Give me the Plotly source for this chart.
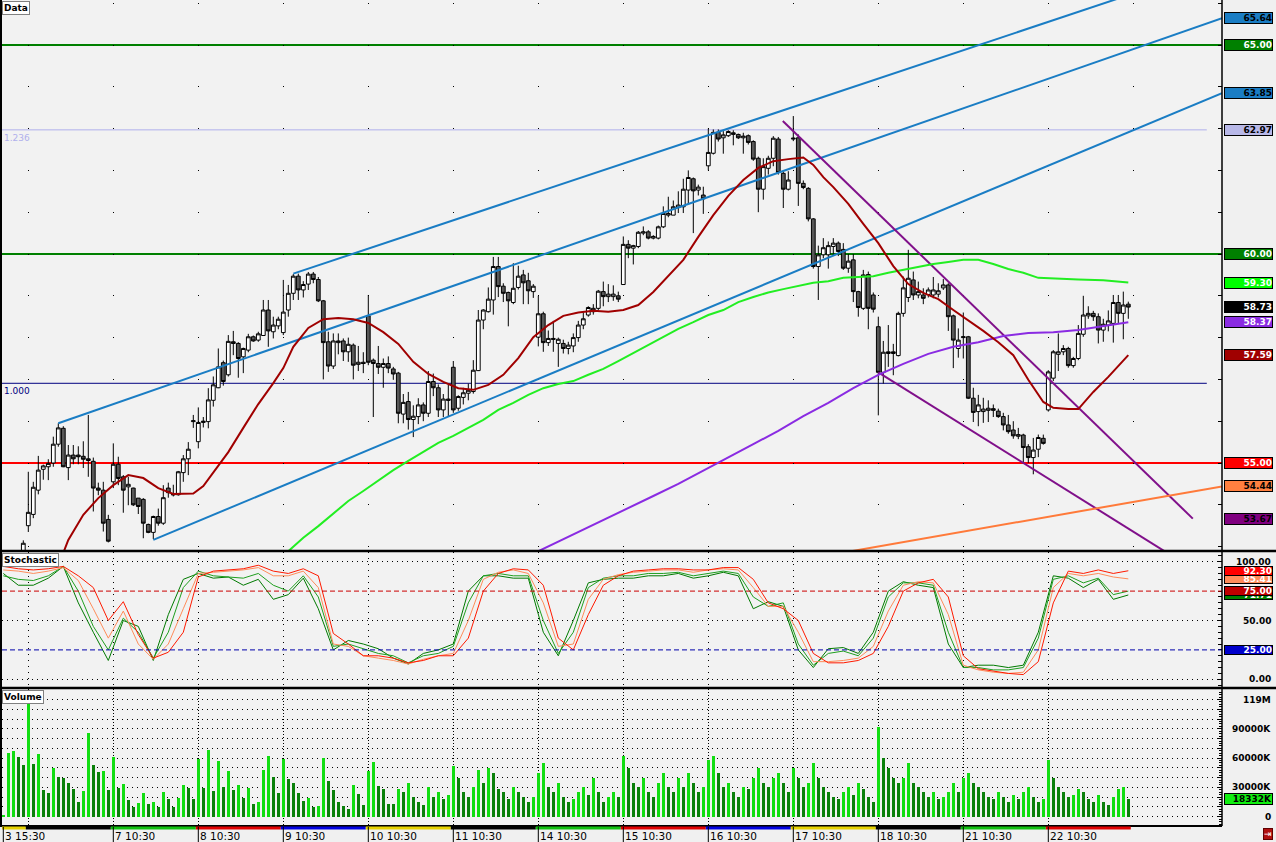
import plotly.graph_objects as go
from plotly.subplots import make_subplots

# ---------------- DATA ----------------
bar_idx = list(range(226))

opens = [52.70,52.75,52.65,52.80,52.90,53.50,53.77,54.35,54.85,54.91,55.00,55.45,55.83,54.89,55.19,55.19,55.16,55.10,55.04,54.40,
         54.35,53.65,54.55,54.97,54.67,54.43,54.40,54.16,54.13,53.53,53.34,53.72,53.56,54.40,54.26,54.24,54.77,55.10,55.99,55.51,
         55.97,55.99,56.50,56.80,57.40,57.11,57.90,57.86,57.54,57.70,58.02,57.94,58.05,58.66,58.14,58.28,58.12,58.66,59.06,59.47,
         59.14,59.28,59.52,59.39,58.88,57.90,57.32,57.88,57.92,57.66,57.82,57.36,57.41,58.52,57.46,57.38,57.29,57.38,57.25,57.15,
         56.17,56.47,56.04,56.11,56.39,56.19,56.95,56.80,56.27,56.53,57.29,56.31,56.57,56.67,56.71,57.21,58.42,58.62,58.90,59.70,
         59.23,59.08,58.84,59.20,59.50,59.36,59.10,58.01,58.57,57.88,57.98,57.86,57.86,57.74,57.80,58.00,58.30,58.54,58.62,58.70,
         59.10,58.98,58.98,59.00,59.27,60.23,60.14,60.18,60.50,60.53,60.38,60.38,60.65,60.93,60.93,61.11,61.13,61.53,61.80,61.53,
         61.41,62.11,62.41,62.91,62.78,62.83,62.86,62.86,62.78,62.83,62.69,62.29,61.55,62.05,62.29,62.75,61.93,61.55,62.75,62.78,
         61.69,61.57,60.84,59.70,59.98,59.98,60.18,60.26,60.11,59.66,59.86,59.10,58.70,59.51,59.02,58.26,57.17,57.62,57.62,57.57,
         58.58,58.96,59.38,59.02,59.02,59.03,59.02,59.04,59.19,59.26,58.52,57.74,58.00,58.02,56.55,56.23,56.23,56.26,56.30,56.24,
         56.11,55.91,55.79,55.64,55.67,55.39,55.13,55.33,55.59,56.27,57.03,57.60,57.66,57.74,57.33,57.50,58.08,58.52,58.58,58.50,
         58.18,58.30,58.34,58.84,58.58,58.80]
highs = [52.80,52.85,52.85,52.88,53.15,54.79,54.55,55.17,54.96,55.09,55.63,55.95,55.88,55.43,55.43,55.40,55.52,56.15,55.13,54.53,
         54.55,53.76,55.47,55.15,54.71,54.67,54.41,54.16,54.16,53.55,53.74,53.91,54.47,54.53,54.48,54.81,55.19,55.50,56.15,56.33,
         56.10,56.79,57.07,57.74,57.45,58.06,58.16,57.89,57.76,58.09,58.05,58.14,58.90,58.90,58.50,58.50,59.38,59.26,59.52,59.53,
         59.35,59.57,59.57,59.45,58.90,58.14,58.10,58.10,57.98,58.00,57.86,57.80,57.65,59.02,57.50,57.80,57.50,57.55,57.30,57.18,
         56.65,56.70,56.38,56.55,56.45,57.20,57.14,56.88,56.65,56.90,57.44,56.62,56.80,56.90,57.46,58.66,58.68,59.20,59.93,59.93,
         59.30,59.10,59.78,59.72,59.62,59.55,59.28,59.00,58.62,58.17,58.40,58.00,57.95,57.90,58.10,58.40,58.60,58.75,58.80,59.14,
         59.34,59.28,59.25,59.10,60.42,60.33,60.22,60.55,60.66,60.57,60.45,60.68,61.14,61.37,61.28,61.50,61.80,62.00,61.83,61.66,
         61.61,63.00,62.98,62.98,62.94,62.96,62.96,62.88,62.90,62.86,62.72,62.33,62.29,62.35,62.82,62.80,61.97,61.98,63.30,62.86,
         61.76,61.60,60.86,60.20,60.38,60.30,60.38,60.30,60.26,60.00,60.00,59.12,59.62,59.58,59.08,58.50,57.92,58.30,57.85,58.62,
         59.46,60.10,59.58,59.34,59.18,59.20,59.45,59.30,59.40,59.30,58.55,58.22,58.60,58.04,56.80,56.63,56.56,56.50,56.40,56.30,
         56.20,56.15,56.00,55.84,55.70,55.45,55.60,55.68,55.68,57.22,57.70,58.10,57.82,57.78,57.54,58.30,59.00,58.75,58.64,58.58,
         58.45,58.65,59.02,59.02,59.10,58.86]
lows = [52.60,52.55,52.50,52.60,52.80,53.35,53.68,54.25,54.60,54.59,54.91,55.39,54.90,54.59,54.97,54.97,54.88,54.67,53.84,54.23,
        53.36,53.10,54.40,54.47,53.81,53.99,53.97,53.78,53.20,53.32,53.18,53.50,53.52,54.17,54.20,54.22,54.55,54.71,55.84,55.35,
        55.85,55.83,56.35,56.79,56.85,57.07,57.58,57.04,57.15,57.65,57.90,57.90,58.05,57.78,57.98,58.20,58.06,58.50,58.90,58.90,
        58.96,59.14,59.30,58.85,57.00,57.18,57.25,57.60,57.44,57.42,57.00,57.20,57.15,57.34,56.10,57.13,56.80,57.15,56.99,55.95,
        55.95,55.80,55.62,55.93,56.00,56.10,56.60,56.10,56.10,56.10,56.20,56.25,56.40,56.50,56.66,57.20,58.20,58.60,58.55,58.97,
        58.85,58.27,58.80,59.15,58.80,58.80,58.95,57.79,57.66,57.80,57.66,57.30,57.62,57.60,57.65,57.90,58.20,58.50,58.55,58.65,
        58.75,58.85,58.88,58.85,59.27,59.90,59.75,60.14,60.45,60.35,60.35,60.35,60.62,60.88,60.93,60.98,60.98,61.20,60.50,61.40,
        60.96,62.00,62.38,62.69,62.40,62.80,62.60,62.75,62.40,62.62,62.23,61.00,61.30,61.90,62.10,61.90,61.10,61.52,62.70,61.15,
        61.55,60.78,59.65,58.90,59.90,59.65,59.95,59.95,59.62,59.55,58.85,58.50,58.66,58.20,58.60,56.14,56.90,57.30,57.10,57.55,
        58.50,58.85,58.90,58.94,58.80,58.96,58.94,58.96,59.14,58.16,57.27,57.52,57.50,56.53,55.98,55.88,55.96,55.98,56.10,56.08,
        55.78,55.70,55.58,55.57,55.00,55.00,54.73,55.14,55.44,56.23,56.96,57.20,57.58,57.28,57.28,57.46,58.02,58.45,58.40,57.86,
        57.90,58.15,57.88,58.35,57.96,58.45]
closes = [52.75,52.65,52.80,52.70,53.08,53.82,54.42,54.83,54.93,54.99,55.45,55.84,54.91,55.19,55.10,55.15,55.09,55.06,54.40,54.35,
          53.56,53.13,54.97,54.63,54.35,54.49,54.00,53.96,53.56,53.34,53.72,53.56,54.17,54.29,54.24,54.79,55.10,55.33,56.01,55.97,
          56.00,56.51,56.87,57.30,56.95,57.91,57.86,57.50,57.74,58.02,57.92,58.09,58.66,58.16,58.30,58.44,58.61,59.06,59.47,59.14,
          59.27,59.52,59.39,58.88,57.88,57.32,57.92,57.92,57.66,57.84,57.34,57.41,57.38,57.41,57.38,57.29,57.38,57.27,57.13,56.19,
          56.45,56.04,56.12,56.39,56.19,56.95,56.80,56.27,56.53,56.50,56.27,56.59,56.68,56.74,57.22,58.42,58.66,58.92,59.70,59.22,
          59.06,58.88,59.18,59.47,59.31,59.12,59.23,58.57,57.88,57.98,57.96,57.96,57.74,57.82,58.00,58.30,58.45,58.72,58.70,59.11,
          58.98,59.04,59.04,58.92,60.23,60.14,60.20,60.52,60.53,60.38,60.42,60.65,60.97,60.97,61.13,61.17,61.55,61.83,61.51,61.60,
          61.32,62.43,62.91,62.75,62.85,62.93,62.90,62.78,62.82,62.67,62.27,61.55,62.09,62.29,62.77,61.95,61.55,61.77,62.77,61.69,
          61.59,60.84,59.70,59.98,60.15,60.20,60.26,60.06,59.66,59.83,59.10,58.72,59.50,58.70,58.68,57.17,57.65,57.66,57.66,58.58,
          59.19,59.42,59.02,59.10,58.94,59.14,59.14,59.12,59.26,58.50,57.94,57.94,58.02,56.55,56.21,56.39,56.29,56.31,56.26,56.11,
          55.91,55.75,55.65,55.68,55.37,55.13,55.31,55.61,55.47,57.18,57.66,57.66,57.74,57.33,57.50,58.10,58.54,58.58,58.50,58.18,
          58.32,58.40,58.84,58.58,58.78,58.73]

volume_k = [1000,65200,67300,61400,52900,117000,54000,64200,27300,24200,49900,40600,39600,34500,28400,15400,26300,85700,52900,45800,
            46800,27300,61100,29400,33500,17100,9900,14000,24300,13000,15000,9900,25300,18100,9900,19100,32400,29400,18100,59100,
            29400,68300,26300,57000,30400,46800,27300,32400,19100,29400,13000,15000,47800,62100,40600,24300,59100,38600,34500,24300,
            16000,19100,9900,10900,60100,36500,27300,15000,10900,7900,32400,23200,11900,46800,56000,31400,28400,13000,12500,28400,
            25000,35000,20000,15000,12000,30000,20000,25000,18000,22000,52000,40000,25000,20000,30000,48000,35000,50000,45000,28000,
            25000,18000,30000,25000,20000,15000,20000,45000,55000,30000,25000,35000,20000,15000,18000,25000,30000,22000,40000,25000,
            15000,20000,25000,20000,62000,50000,35000,30000,40000,25000,20000,35000,45000,30000,25000,40000,30000,45000,35000,25000,
            30000,58000,62000,45000,30000,35000,25000,20000,30000,28000,40000,50000,35000,30000,40000,45000,35000,25000,50000,40000,
            30000,35000,55000,40000,30000,25000,20000,18000,25000,30000,22000,35000,28000,20000,15000,92000,60000,50000,40000,35000,
            40000,55000,35000,30000,25000,20000,25000,18000,20000,25000,35000,25000,40000,45000,35000,30000,25000,20000,18000,25000,
            20000,15000,22000,18000,25000,30000,20000,15000,18000,58000,40000,30000,25000,20000,22000,28000,25000,18000,15000,22000,
            15000,12000,20000,28000,30000,18332]

# moving averages (sampled along the bar index)
ma_red_idx = [12,13,16,19,22,25,28,31,34,38,40,42,45,48,51,54,56,58,61,64,67,70,73,76,79,82,85,88,91,94,97,100,103,106,109,112,
              115,118,121,124,127,130,133,136,139,142,145,148,151,154,157,160,162,164,166,169,172,175,178,181,184,187,190,193,196,
              199,202,205,208,210,213,215,218,221,223,225]
ma_red = [52.85,53.16,53.76,54.16,54.47,54.71,54.64,54.40,54.26,54.27,54.45,54.78,55.26,55.84,56.41,56.91,57.27,57.78,58.23,58.44,
          58.47,58.44,58.35,58.13,57.85,57.42,57.13,56.94,56.79,56.75,56.87,57.11,57.51,58.01,58.30,58.52,58.60,58.64,58.62,58.66,
          58.78,59.09,59.47,59.86,60.41,60.93,61.39,61.77,62.06,62.22,62.27,62.31,62.13,61.84,61.60,61.20,60.72,60.26,59.71,59.28,
          59.07,58.92,58.66,58.42,58.16,57.89,57.58,56.99,56.46,56.32,56.29,56.29,56.70,57.06,57.32,57.58]
ma_green_idx = [57,60,63,66,69,72,75,78,81,84,87,90,93,96,99,102,105,108,111,114,117,120,123,126,129,132,135,138,141,144,147,150,
                153,156,159,162,165,168,171,174,177,180,183,186,189,192,195,198,201,204,207,210,215,220,225]
ma_green = [52.89,53.21,53.49,53.80,54.09,54.33,54.59,54.83,55.05,55.26,55.48,55.65,55.84,56.03,56.27,56.44,56.63,56.79,56.89,56.96,
            57.11,57.25,57.44,57.63,57.82,58.01,58.21,58.37,58.54,58.66,58.85,58.97,59.08,59.16,59.23,59.31,59.35,59.43,59.45,59.47,
            59.55,59.62,59.69,59.76,59.81,59.86,59.86,59.76,59.64,59.55,59.43,59.41,59.39,59.37,59.32]
ma_purple_idx = [107,110,115,120,125,130,135,140,145,150,155,160,165,170,175,180,185,190,195,200,205,210,215,220,225]
ma_purple = [52.89,53.06,53.35,53.64,53.92,54.21,54.50,54.81,55.12,55.45,55.77,56.12,56.44,56.79,57.11,57.37,57.61,57.78,57.89,58.04,
             58.11,58.13,58.18,58.28,58.37]

# stochastic (sampled every 3 bars)
stoch_idx = list(range(0, 226, 3))
stoch_red = [96,94,93,94,96,88,78,50,66,38,18,23,40,87,92,93,94,97,92,90,94,88,39,30,20,20,18,14,16,20,
             20,35,75,90,94,93,80,35,25,55,80,88,92,93,94,94,93,93,95,95,85,65,60,50,22,14,14,16,22,45,
             75,82,85,70,20,9,7,5,4,15,65,92,90,93,90,92.3]
stoch_orange = [93,92,90,92,95,84,60,35,58,30,17,30,60,90,91,92,93,95,88,88,92,78,30,28,20,18,16,13,17,20,
                22,50,85,91,93,90,65,28,30,68,85,89,91,92,93,93,91,93,94,93,78,62,62,40,15,15,16,18,28,58,
                80,83,82,55,12,8,6,5,6,25,78,90,88,90,87,85.41]
stoch_green2 = [88,85,84,88,96,75,45,25,52,40,18,40,78,92,88,87,86,90,80,75,88,70,28,30,26,22,20,14,20,22,
                28,65,88,90,88,88,50,22,40,78,86,88,88,90,90,91,88,90,92,90,70,62,65,30,12,22,24,20,35,70,
                82,82,80,40,10,10,8,8,10,35,85,88,82,86,72,75]
stoch_green1 = [90,80,80,86,96,65,40,16,50,45,16,55,85,90,86,87,80,85,68,72,86,60,25,33,30,26,18,13,22,25,
                30,75,88,88,86,86,40,20,50,82,85,86,86,88,88,90,86,88,91,88,60,66,62,25,10,26,27,22,40,75,
                83,80,78,30,10,12,12,10,12,40,88,86,78,85,68,71.71]

# trend lines: (start bar, start price, end bar, end price)
blue_trends = [(11, 55.95, 243.74, 65.64), (30, 53.16, 243.74, 63.85), (58, 59.53, 243.74, 66.94)]
purple_trends = [(155.9, 63.18, 237.9, 53.67), (175, 57.17, 240, 52.31)]
orange_trends = [(150, 52.48, 243.74, 54.44)]
sr_levels = [(65.0, "#008000"), (60.0, "#008000"), (55.0, "#ff0000")]
fib_levels = [("1.236", 62.97, "#b0b0ec"), ("1.000", 56.907, "#000080")]

day_label_idx = [0, 22, 39, 56, 73, 90, 107, 124, 141, 158, 175, 192, 209]
day_labels = ["3 15:30", "7 10:30", "8 10:30", "9 10:30", "10 10:30", "11 10:30", "14 10:30",
              "15 10:30", "16 10:30", "17 10:30", "18 10:30", "21 10:30", "22 10:30"]
session_idx = [0, 5, 22, 39, 56, 73, 90, 107, 124, 141, 158, 175, 192, 209]
session_colors = ["#e6d200", "#000000", "#10c010", "#e00000", "#0000e0", "#e6d200", "#000000",
                  "#10c010", "#e00000", "#0000e0", "#e6d200", "#000000", "#10c010", "#e00000"]

price_labels = [(65.64, "#1a7dc4", "black"), (65.00, "#008000", "white"), (63.85, "#1a7dc4", "black"),
                (62.97, "#b8b8e8", "black"), (60.00, "#008000", "white"), (59.30, "#00ff00", "white"),
                (58.73, "#000000", "white"), (58.37, "#8a2be2", "white"), (57.59, "#a00000", "white"),
                (55.00, "#ff0000", "white"), (54.44, "#ff8040", "black"), (53.67, "#800080", "black")]
stoch_plain = [(100, "100.00"), (50, "50.00"), (0, "0.00")]
stoch_boxes = [(85.41, "#ff8c5a", "white"), (92.30, "#ff0000", "white"), (71.71, "#008000", "white"),
               (75.00, "#c00000", "white"), (25.00, "#0000cc", "white")]
vol_tickvals = [0, 30000, 60000, 90000, 119000]
vol_ticktext = ["0", "30000K", "60000K", "90000K", "119M"]

# ---------------- FIGURE ----------------
W, H = 1276, 842
ML, MR, MT, MB = 2, 54, 0, 16
PW = W - ML - MR
PH = H - MT - MB

def py(px):  # pixel row -> paper y
    return (PH - (px - MT)) / PH

def pxx(px):  # pixel column -> paper x
    return (px - ML) / PW

fig = make_subplots(rows=3, cols=1, shared_xaxes=True, vertical_spacing=0.0)

fig.add_trace(go.Candlestick(
    x=bar_idx, open=opens, high=highs, low=lows, close=closes, whiskerwidth=0,
    increasing=dict(line=dict(color="black", width=1), fillcolor="white"),
    decreasing=dict(line=dict(color="black", width=1), fillcolor="#585858"),
    hoverinfo="skip"), row=1, col=1)

for (x0, y0, x1, y1) in blue_trends:
    fig.add_trace(go.Scatter(x=[x0, x1], y=[y0, y1], mode="lines",
                             line=dict(color="#1a7dc4", width=2)), row=1, col=1)
for (x0, y0, x1, y1) in purple_trends:
    fig.add_trace(go.Scatter(x=[x0, x1], y=[y0, y1], mode="lines",
                             line=dict(color="#80108a", width=2)), row=1, col=1)
for (x0, y0, x1, y1) in orange_trends:
    fig.add_trace(go.Scatter(x=[x0, x1], y=[y0, y1], mode="lines",
                             line=dict(color="#ff7a3a", width=2)), row=1, col=1)

fig.add_trace(go.Scatter(x=ma_green_idx, y=ma_green, mode="lines",
                         line=dict(color="#22ee22", width=2)), row=1, col=1)
fig.add_trace(go.Scatter(x=ma_purple_idx, y=ma_purple, mode="lines",
                         line=dict(color="#8a2be2", width=2)), row=1, col=1)
fig.add_trace(go.Scatter(x=ma_red_idx, y=ma_red, mode="lines",
                         line=dict(color="#a00000", width=2)), row=1, col=1)

# stochastic
for vals, col in [(stoch_green1, "#007a00"), (stoch_green2, "#1f9f1f"),
                  (stoch_orange, "#ff8c5a"), (stoch_red, "#ff1a00")]:
    fig.add_trace(go.Scatter(x=stoch_idx, y=vals, mode="lines",
                             line=dict(color=col, width=1)), row=2, col=1)

# volume
vol_colors = []
for i, v in enumerate(volume_k):
    up = i == 0 or v >= volume_k[i - 1]
    vol_colors.append("#11dd11" if up else "#0a800a")
fig.add_trace(go.Bar(x=bar_idx, y=volume_k, marker=dict(color=vol_colors, line=dict(width=0)),
                     width=0.5), row=3, col=1)

xr = [-0.26, 243.74]

shapes = []
annotations = []

# S/R levels
for lvl, col in sr_levels:
    shapes.append(dict(type="line", xref="paper", x0=0, x1=1, yref="y", y0=lvl, y1=lvl,
                       line=dict(color=col, width=2), layer="below"))
for txt, lvl, col in fib_levels:
    shapes.append(dict(type="line", xref="x", x0=xr[0], x1=240.7, yref="y", y0=lvl, y1=lvl,
                       line=dict(color=col, width=1), layer="below"))
    annotations.append(dict(text=txt, xref="paper", x=0.0, y=lvl, yref="y", xanchor="left",
                            yanchor="top", showarrow=False, yshift=-1,
                            font=dict(family="DejaVu Sans", size=9, color=col)))

# stoch reference lines
shapes.append(dict(type="line", xref="paper", x0=0, x1=1, yref="y2", y0=75, y1=75,
                   line=dict(color="#cc0000", width=1, dash="5px,3px")))
shapes.append(dict(type="line", xref="paper", x0=0, x1=1, yref="y2", y0=25, y1=25,
                   line=dict(color="#0000aa", width=1, dash="5px,3px")))

# panel separators and borders
for ypx in [551, 688]:
    shapes.append(dict(type="line", xref="paper", x0=pxx(0), x1=pxx(W), yref="paper",
                       y0=py(ypx), y1=py(ypx), line=dict(color="black", width=2.5)))
shapes.append(dict(type="line", xref="paper", x0=pxx(0), x1=1.0, yref="paper",
                   y0=py(826), y1=py(826), line=dict(color="black", width=2)))
shapes.append(dict(type="line", xref="paper", x0=1.0, x1=1.0, yref="paper", y0=py(826), y1=1,
                   line=dict(color="black", width=1.5)))
shapes.append(dict(type="line", xref="paper", x0=pxx(1), x1=pxx(1), yref="paper", y0=py(826), y1=1,
                   line=dict(color="black", width=2)))

# session colour strip and bottom ticks
for k, s in enumerate(session_idx):
    e = session_idx[k + 1] - 0.5 if k + 1 < len(session_idx) else len(bar_idx) - 0.5
    x0 = xr[0] if k == 0 else s - 0.5
    shapes.append(dict(type="rect", xref="x3", x0=x0, x1=e, yref="paper", y0=py(826.5), y1=py(829.5),
                       line=dict(width=0), fillcolor=session_colors[k]))
for k, d in enumerate(day_label_idx):
    shapes.append(dict(type="line", xref="x3", x0=d, x1=d, yref="paper", y0=py(827), y1=py(842),
                       line=dict(color="black", width=1)))
    annotations.append(dict(text=day_labels[k], xref="x3", x=d, xanchor="left", xshift=1,
                            yref="paper", y=py(828.5), yanchor="top", showarrow=False,
                            borderpad=0, height=13, valign="top",
                            font=dict(family="DejaVu Sans", size=10.5, color="black")))

# right-axis value boxes
def box(yval, yref, bg, fg, txt, h=10):
    annotations.append(dict(text="<b>%s</b>" % txt, xref="paper", x=pxx(1224), xanchor="left",
                            yref=yref, y=yval, yanchor="middle", showarrow=False, width=47, height=h,
                            align="right", bgcolor=bg, bordercolor="black", borderwidth=1, borderpad=0,
                            font=dict(family="DejaVu Sans", size=9, color=fg)))

def plain(yval, yref, txt):
    annotations.append(dict(text="<b>%s</b>" % txt, xref="paper", x=pxx(1273), xanchor="right",
                            yref=yref, y=yval, yanchor="middle", showarrow=False,
                            font=dict(family="DejaVu Sans", size=9, color="black")))

for v, bg, fg in price_labels:
    box(v, "y", bg, fg, "%.2f" % v)
for v, t in stoch_plain:
    plain(v, "y2", t)
for v, bg, fg in stoch_boxes:
    box(v, "y2", bg, fg, "%.2f" % v, h=8)
for v, t in zip(vol_tickvals, vol_ticktext):
    plain(v, "y3", t)
box(volume_k[-1], "y3", "#11ee11", "black", "%dK" % volume_k[-1])

# panel titles
for title, ypx in [("Data", 1), ("Stochastic", 553), ("Volume", 690)]:
    annotations.append(dict(text="<b>%s</b>" % title, xref="paper", x=pxx(2), xanchor="left",
                            yref="paper", y=py(ypx), yanchor="top", showarrow=False,
                            bgcolor="white", bordercolor="#808080", borderwidth=1, borderpad=1,
                            font=dict(family="DejaVu Sans", size=9, color="black")))

# corner icon
annotations.append(dict(text="⇥", xref="paper", x=pxx(1268), xanchor="center", yref="paper",
                        y=py(834), yanchor="middle", showarrow=False, bgcolor="#b01010",
                        bordercolor="#600000", borderwidth=1, borderpad=0,
                        font=dict(family="DejaVu Sans", size=9, color="white")))

fig.update_layout(
    width=W, height=H, margin=dict(l=ML, r=MR, t=MT, b=MB, autoexpand=False),
    paper_bgcolor="#f0f0f0", plot_bgcolor="#f2f2f2",
    showlegend=False, hovermode=False, bargap=0,
    boxgap=0.25, boxgroupgap=0.0,
    shapes=shapes, annotations=annotations,
)

axis_common = dict(range=xr, showline=False, zeroline=False, showticklabels=False, ticks="", automargin=False)
fig.update_layout(
    xaxis=dict(axis_common, showgrid=False, rangeslider=dict(visible=False)),
    xaxis2=dict(axis_common, showgrid=True, tickvals=session_idx[1:], gridcolor="black",
                griddash="1px,5px", gridwidth=1),
    xaxis3=dict(axis_common, showgrid=True, tickvals=session_idx[1:], gridcolor="black",
                griddash="1px,2px", gridwidth=1),
    yaxis=dict(domain=[py(550), 1.0], range=[52.9187, 66.0766], side="right", automargin=False,
               tickvals=list(range(53, 67)), ticks="inside", ticklen=4, tickcolor="black",
               showticklabels=False, showgrid=True, gridcolor="black", griddash="0px,26px,1px,58px",
               gridwidth=1, zeroline=False, showline=False),
    yaxis2=dict(domain=[py(687), py(552)], range=[-6.55, 108.25], side="right", automargin=False,
                tickvals=[0, 50, 100], ticks="inside", ticklen=5, tickcolor="black",
                showticklabels=False, showgrid=True, gridcolor="black", griddash="1px,4px",
                minor=dict(dtick=5, tick0=0, ticks="inside", ticklen=4, tickcolor="black", showgrid=False),
                zeroline=False, showline=False),
    yaxis3=dict(domain=[0.0, py(689)], range=[-9523, 130765], side="right", automargin=False,
                tickvals=list(range(0, 130001, 10000)), ticks="inside", ticklen=5, tickcolor="black",
                showticklabels=False, showgrid=True, gridcolor="black", griddash="1px,4px",
                minor=dict(dtick=2500, tick0=0, ticks="inside", ticklen=3, tickcolor="black", showgrid=False),
                zeroline=False, showline=False),
)

fig.write_html("out.html", config={"displayModeBar": False},
               post_script="document.body.style.margin='0px';document.body.style.overflow='hidden';")
